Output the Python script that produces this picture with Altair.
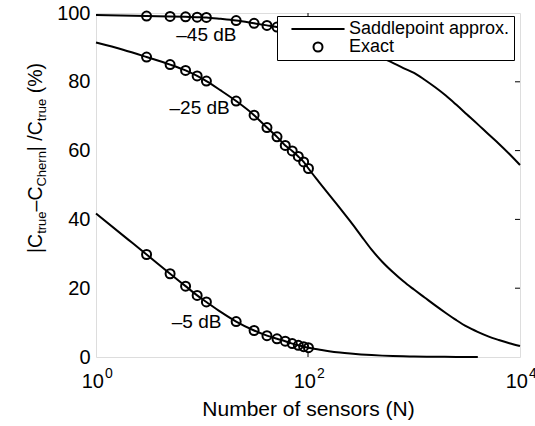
import altair as alt
import pandas as pd

FONT = "Liberation Sans"
W, H = 424, 344

# ---------------- data ----------------
marker_N = [3, 5, 7, 9, 11, 21, 31, 41, 51, 61, 71, 81, 91, 101]
exact_m5 = [29.8, 24.2, 20.6, 17.9, 16.0, 10.3, 7.7, 6.2, 5.3, 4.6, 3.9, 3.4, 3.0, 2.7]
exact_m25 = [87.2, 85.0, 83.3, 81.7, 80.2, 74.4, 70.3, 66.7, 64.0, 61.5, 59.9, 58.3, 56.7, 54.8]
exact_m45 = [99.1, 99.0, 98.9, 98.8, 98.7, 97.8, 97.0, 96.4, 95.9, 95.4, 95.0, 94.6, 94.3, 94.0]

line_N_m5 = [1, 2, 3, 5, 7, 9, 11, 15, 21, 31, 41, 51, 61, 71, 81, 91, 101, 126, 158, 200, 251,
             316, 398, 501, 631, 794, 1000, 1585, 2512, 4000]
line_m5 = [41.7, 34.2, 29.8, 24.2, 20.6, 17.9, 16.0, 13.1, 10.3, 7.7, 6.2, 5.3, 4.6, 3.9, 3.4, 3.0,
           2.7, 2.2, 1.7, 1.3, 1.0, 0.75, 0.55, 0.4, 0.28, 0.19, 0.13, 0.06, 0.02, 0.0]

line_N_m25 = [1, 1.8, 3, 5, 7, 9, 11, 15, 21, 31, 41, 51, 61, 71, 81, 91, 101, 126, 158, 200, 251,
              316, 398, 501, 631, 794, 1000, 1259, 1585, 1995, 2512, 3162, 3981, 5012, 6310,
              7943, 10000]
line_m25 = [91.4, 89.3, 87.2, 85.0, 83.3, 81.7, 80.2, 77.5, 74.4, 70.3, 66.7, 64.0, 61.5, 59.9,
            58.3, 56.7, 54.8, 51.0, 47.2, 43.3, 39.4, 35.3, 31.2, 27.7, 24.7, 22.0, 19.6, 17.3,
            15.0, 12.8, 10.7, 8.8, 7.3, 6.0, 4.95, 4.0, 3.2]

line_N_m45 = [1, 3, 5, 7, 9, 11, 15, 21, 31, 41, 51, 61, 71, 81, 91, 101, 126, 158, 200, 251, 316,
              398, 501, 631, 794, 1000, 1259, 1585, 1995, 2512, 3162, 3981, 5012, 6310, 7943,
              10000]
line_m45 = [99.4, 99.1, 99.0, 98.9, 98.8, 98.7, 98.3, 97.8, 97.0, 96.4, 95.9, 95.4, 95.0, 94.6,
            94.3, 94.0, 93.3, 92.4, 91.3, 90.2, 89.3, 88.3, 87.0, 85.5, 84.0, 82.6, 80.6, 78.4,
            76.0, 73.3, 70.5, 67.7, 64.8, 62.0, 59.0, 55.8]

curve_labels = ["\u201345 dB", "\u201325 dB", "\u20135 dB"]
curve_label_N = [11, 9.5, 8.9]
curve_label_val = [93.6, 72.3, 10.2]

y_tick_values = [0, 20, 40, 60, 80, 100]
y_inner_ticks = [20, 40, 60, 80]
x_tick_N = [1, 100, 10000]
x_tick_base = ["10", "10", "10"]
x_tick_exp = ["0", "2", "4"]
x_inner_ticks = [100]

legend_names = ["Saddlepoint approx.", "Exact"]

# ---------------- tables ----------------
lines_df = pd.concat([
    pd.DataFrame({"N": line_N_m5, "val": line_m5, "series": "-5"}),
    pd.DataFrame({"N": line_N_m25, "val": line_m25, "series": "-25"}),
    pd.DataFrame({"N": line_N_m45, "val": line_m45, "series": "-45"}),
])
pts_df = pd.concat([
    pd.DataFrame({"N": marker_N, "val": exact_m5, "series": "-5"}),
    pd.DataFrame({"N": marker_N, "val": exact_m25, "series": "-25"}),
    pd.DataFrame({"N": marker_N, "val": exact_m45, "series": "-45"}),
])
pts_df["kind"] = "Exact"
lab_df = pd.DataFrame({"N": curve_label_N, "val": curve_label_val, "t": curve_labels})
xl_df = pd.DataFrame({"N": x_tick_N, "base": x_tick_base, "exp": x_tick_exp})

xscale = alt.Scale(type="log", domain=[1, 10000], nice=False)
yscale = alt.Scale(domain=[0, 100], nice=False, zero=False)

lines = alt.Chart(lines_df).mark_line(color="black", strokeWidth=2, interpolate="monotone").encode(
    x=alt.X("N:Q", scale=xscale,
            axis=alt.Axis(labels=False, ticks=False, domain=False, grid=False,
                          title="Number of sensors (N)", titleFont=FONT, titleFontSize=21,
                          titleFontWeight="normal", titleColor="black", titleY=58,
                          titleBaseline="alphabetic")),
    y=alt.Y("val:Q", scale=yscale,
            axis=alt.Axis(values=y_tick_values, labelFont=FONT, labelFontSize=20,
                          labelColor="black", labelPadding=6, ticks=False, domain=False,
                          grid=False, title=None)),
    detail="series:N",
)

pts = alt.Chart(pts_df).mark_point(filled=False, color="black", strokeWidth=2, size=81,
                                   opacity=1).encode(
    x=alt.X("N:Q", scale=xscale),
    y=alt.Y("val:Q", scale=yscale),
    shape=alt.Shape("kind:N",
                    scale=alt.Scale(domain=legend_names, range=["M-5.9,0H5.9", "circle"]),
                    legend=alt.Legend(title=None, orient="none", legendX=181, legendY=3,
                                      fillColor="white", strokeColor="black", padding=4,
                                      labelFont=FONT, labelFontSize=18, labelColor="black",
                                      labelLimit=400,
                                      symbolSize=81, symbolStrokeWidth=2,
                                      symbolStrokeColor="black", symbolFillColor="transparent",
                                      symbolOffset=28, labelOffset=22, rowPadding=-1)),
)

labels = alt.Chart(lab_df).mark_text(font=FONT, fontSize=19, color="black", align="center",
                                     baseline="middle").encode(
    x=alt.X("N:Q", scale=xscale), y=alt.Y("val:Q", scale=yscale), text="t:N")

rticks = alt.Chart(pd.DataFrame({"v": y_inner_ticks})).mark_rule(color="black").encode(
    y=alt.Y("v:Q", scale=yscale), x=alt.value(W - 5), x2=alt.value(W))
xt_top = alt.Chart(pd.DataFrame({"N": x_inner_ticks})).mark_rule(color="black").encode(
    x=alt.X("N:Q", scale=xscale), y=alt.value(0), y2=alt.value(5))
xt_bot = alt.Chart(pd.DataFrame({"N": x_inner_ticks})).mark_rule(color="black").encode(
    x=alt.X("N:Q", scale=xscale), y=alt.value(H - 5), y2=alt.value(H))

xl_base = alt.Chart(xl_df).mark_text(font=FONT, fontSize=20, color="black", align="right",
                                     baseline="alphabetic", dx=8).encode(
    x=alt.X("N:Q", scale=xscale), y=alt.value(H + 31), text="base:N")
xl_exp = alt.Chart(xl_df).mark_text(font=FONT, fontSize=14, color="black", align="left",
                                    baseline="alphabetic", dx=9).encode(
    x=alt.X("N:Q", scale=xscale), y=alt.value(H + 21), text="exp:N")

# ---------------- y title with subscripts ----------------
metrics = {'|': .26, 'C': .722, 't': .278, 'r': .333, 'u': .556, 'e': .556, '\u2013': .556,
           'h': .556, 'n': .556, ' ': .278, '/': .278, '(': .333, '%': .889, ')': .333}
MAIN, SUB = 19.5, 13
segments = [("|C", False, 0), ("true", True, 0), ("\u2013C", False, 0), ("Chern", True, 0),
            ("| /C", False, 0), ("true", True, 0), ("(%)", False, 0.278)]
title_layers = []
ypos = 240.0
for txt, sub, gap in segments:
    fs = SUB if sub else MAIN
    ypos -= gap * fs
    w = sum(metrics.get(c, .556) for c in txt) * fs
    title_layers.append(
        alt.Chart(pd.DataFrame({"t": [txt]})).mark_text(
            font=FONT, fontSize=fs, color="black", angle=270, align="left",
            baseline="alphabetic").encode(
            x=alt.value(-50 if sub else -54), y=alt.value(ypos), text="t:N"))
    ypos -= w

chart = alt.layer(lines, pts, labels, rticks, xt_top, xt_bot, xl_base, xl_exp,
                  *title_layers).properties(
    width=W, height=H,
    autosize=alt.AutoSizeParams(type="none"),
    padding={"left": 96, "top": 13, "right": 15, "bottom": 69},
).configure_view(stroke="black", strokeWidth=1).configure(background="white")

chart.save("out.html", embed_options={"renderer": "svg", "actions": False})
